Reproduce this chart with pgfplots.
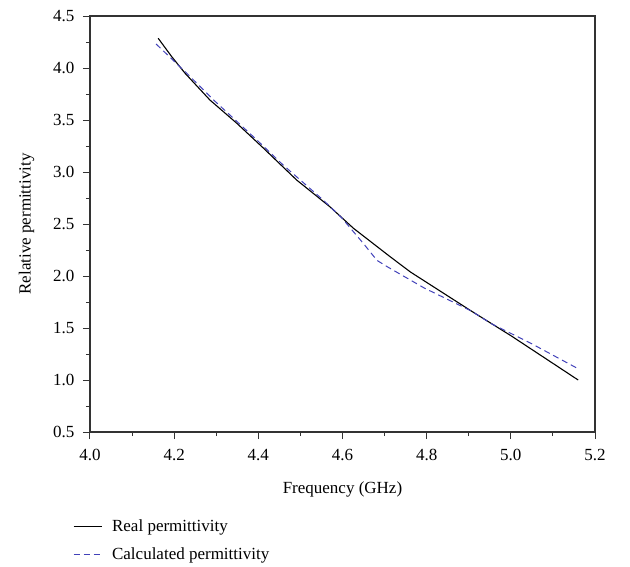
\documentclass[border=0pt]{standalone}
\usepackage{fontspec}
\setmainfont{Liberation Serif}
\usepackage{pgfplots}
\pgfplotsset{compat=1.18}
\definecolor{calcblue}{RGB}{65,65,185}
\begin{document}
\begin{tikzpicture}
\begin{axis}[
  at={(0pt,0pt)}, anchor=south west,
  scale only axis,
  width=505pt, height=416pt,
  xmin=4.0, xmax=5.2, ymin=0.5, ymax=4.5,
  xtick={4.0,4.2,...,5.21}, ytick={0.5,1.0,...,4.51},
  minor x tick num=1, minor y tick num=1,
  tick pos=left, tick align=outside,
  major tick length=7pt, minor tick length=4pt,
  axis line style={line width=1.1pt, black!80},
  every tick/.style={line width=1.0pt, black!80},
  /pgf/number format/assume math mode=true,
  /pgf/number format/.cd, fixed, fixed zerofill, precision=1, /pgfplots/.cd,
  tick label style={font=\fontsize{17}{20}\selectfont},
  xticklabel style={yshift=-7pt},
  yticklabel style={xshift=-5pt},
  label style={font=\fontsize{17}{20}\selectfont},
  xlabel={Frequency (GHz)}, ylabel={Relative permittivity},
  xlabel style={yshift=-14pt},
  ylabel style={yshift=12pt},
  legend style={draw=none, fill=none, font=\fontsize{17}{20}\selectfont,
    at={(axis description cs:-0.04,-0.2)}, anchor=north west,
    row sep=11pt, /tikz/every odd column/.append style={column sep=8pt}},
  legend cell align=left,
  legend image code/.code={\draw[#1] (0pt,0pt) -- (28pt,0pt);},
]
\addplot[black, line width=1.1pt] coordinates {
(4.162,4.286) (4.194,4.11) (4.226,3.949) (4.285,3.692) (4.349,3.468)
(4.412,3.23) (4.491,2.923) (4.570,2.666) (4.626,2.459) (4.714,2.183)
(4.762,2.037) (4.905,1.666) (5.001,1.424) (5.16,1.0)
};
\addlegendentry{Real permittivity}
\addplot[calcblue, line width=1.0pt, dash pattern=on 6pt off 4pt] coordinates {
(4.157,4.231) (4.226,3.965) (4.297,3.68) (4.341,3.516) (4.396,3.31)
(4.459,3.067) (4.554,2.731) (4.598,2.56) (4.650,2.311) (4.682,2.15)
(4.706,2.09) (4.794,1.885) (4.905,1.666) (4.953,1.543) (5.049,1.35) (5.16,1.108)
};
\addlegendentry{Calculated permittivity}
\end{axis}
\pgfresetboundingbox
\path (-90pt,-134pt) rectangle (540pt,432pt);
\end{tikzpicture}
\end{document}
